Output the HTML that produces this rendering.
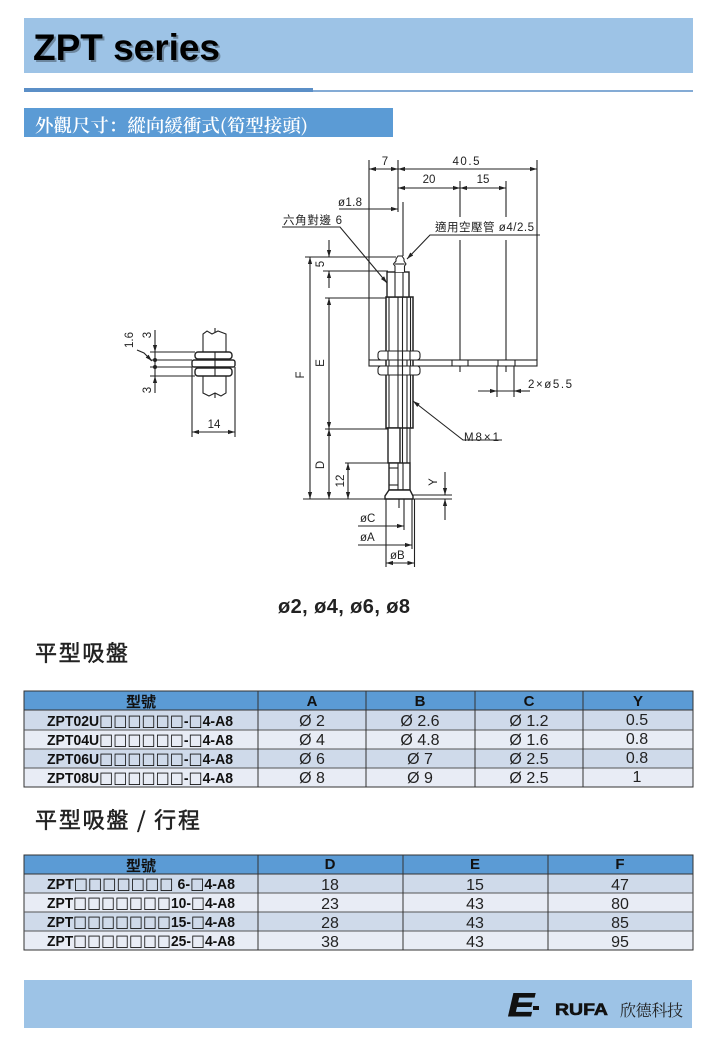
<!DOCTYPE html>
<html><head><meta charset="utf-8"><style>
html,body{margin:0;padding:0;background:#fff;}
svg{display:block;}
.d{font-family:"Liberation Sans","DejaVu Sans",sans-serif;font-size:11.5px;fill:#222;}
.ln{stroke:#222;stroke-width:1.1;fill:none;}
.th{font-family:"Liberation Sans","Noto Sans CJK TC",sans-serif;font-weight:bold;font-size:15px;fill:#111;}
.tm{font-family:"Liberation Sans","DejaVu Sans",sans-serif;font-weight:bold;font-size:15px;fill:#111;}
.bx{font-family:"DejaVu Sans",sans-serif;font-size:16px;font-weight:normal;}
.tv{font-family:"Liberation Sans",sans-serif;font-size:16px;fill:#222;}
</style></head><body>
<svg width="720" height="1040" viewBox="0 0 720 1040" xmlns="http://www.w3.org/2000/svg">
<defs>
<marker id="a" viewBox="0 0 10 10" refX="10" refY="5" markerWidth="7" markerHeight="7" orient="auto-start-reverse" markerUnits="userSpaceOnUse"><path d="M0,2 L10,5 L0,8z" fill="#222"/></marker>
</defs>
<rect x="0" y="0" width="720" height="1040" fill="#fff"/>
<!-- title band -->
<rect x="24" y="18" width="669" height="55" fill="#9dc3e6"/>
<text x="35" y="62" font-family="Liberation Sans,sans-serif" font-weight="bold" font-size="37" fill="#000" opacity="0.3" textLength="187">ZPT series</text>
<text x="33" y="60" font-family="Liberation Sans,sans-serif" font-weight="bold" font-size="37" fill="#000" textLength="187">ZPT series</text>
<!-- separator -->
<rect x="24" y="88" width="289" height="4" fill="#5b8fc7"/>
<line x1="313" y1="91" x2="693" y2="91" stroke="#5b8fc7" stroke-width="1.5"/>
<!-- label -->
<rect x="24" y="108" width="369" height="29" fill="#5b9bd5"/>
<text x="35" y="132" font-size="18" fill="#fff" textLength="273" lengthAdjust="spacingAndGlyphs" style="font-family:'Noto Serif CJK SC',serif;font-weight:600">外觀尺寸：縱向緩衝式(筍型接頭)</text>

<!-- ===== diagram ===== -->
<g class="ln">
<line x1="369" y1="160" x2="369" y2="360"/>
<line x1="398" y1="160" x2="398" y2="212"/>
<line x1="537" y1="160" x2="537" y2="360"/>
<line x1="460" y1="181" x2="460" y2="217"/><line x1="460" y1="240" x2="460" y2="372"/>
<line x1="506" y1="181" x2="506" y2="217"/><line x1="506" y1="240" x2="506" y2="372"/>
<line x1="369" y1="169" x2="398" y2="169" marker-start="url(#a)" marker-end="url(#a)"/>
<line x1="398" y1="169" x2="537" y2="169" marker-start="url(#a)" marker-end="url(#a)"/>
<line x1="398" y1="188" x2="460" y2="188" marker-start="url(#a)" marker-end="url(#a)"/>
<line x1="460" y1="188" x2="506" y2="188" marker-start="url(#a)" marker-end="url(#a)"/>
<line x1="339" y1="209" x2="398" y2="209" marker-end="url(#a)"/>
<line x1="403" y1="202" x2="403" y2="256"/>
<polyline points="282,227 340,227 387,283" marker-end="url(#a)"/>
<polyline points="540,235 430,235 407,259" marker-end="url(#a)"/>
<polyline points="502,440 463,440 413,401" marker-end="url(#a)"/>
<line x1="305" y1="257" x2="396" y2="257"/>
<line x1="323" y1="271" x2="388" y2="271"/>
<line x1="329" y1="240" x2="329" y2="257" marker-end="url(#a)"/>
<line x1="329" y1="288" x2="329" y2="271" marker-end="url(#a)"/>
<line x1="310" y1="257" x2="310" y2="499" marker-start="url(#a)" marker-end="url(#a)"/>
<line x1="325" y1="298" x2="388" y2="298"/>
<line x1="329" y1="298" x2="329" y2="429" marker-start="url(#a)" marker-end="url(#a)"/>
<line x1="325" y1="429" x2="388" y2="429"/>
<line x1="329" y1="429" x2="329" y2="499" marker-start="url(#a)" marker-end="url(#a)"/>
<line x1="345" y1="463" x2="390" y2="463"/>
<line x1="348" y1="463" x2="348" y2="499" marker-start="url(#a)" marker-end="url(#a)"/>
<line x1="303" y1="499" x2="452" y2="499"/>
<line x1="413" y1="495" x2="452" y2="495"/>
<line x1="445" y1="472" x2="445" y2="495" marker-end="url(#a)"/>
<line x1="445" y1="520" x2="445" y2="499" marker-end="url(#a)"/>
<rect x="369" y="360" width="168" height="6" fill="#fff"/>
<line x1="452" y1="360" x2="452" y2="366"/><line x1="468" y1="360" x2="468" y2="366"/>
<line x1="498" y1="360" x2="498" y2="366"/><line x1="515" y1="360" x2="515" y2="366"/>
<line x1="497" y1="366" x2="497" y2="397"/>
<line x1="514" y1="366" x2="514" y2="397"/>
<line x1="478" y1="391" x2="497" y2="391" marker-end="url(#a)"/>
<line x1="530" y1="391" x2="514" y2="391" marker-end="url(#a)"/>
<line x1="497" y1="391" x2="514" y2="391"/>
<rect x="386" y="297" width="27" height="131" fill="#fff" stroke-width="1.5"/>
<line x1="389" y1="297" x2="389" y2="428"/>
<line x1="410.5" y1="297" x2="410.5" y2="428"/>
<line x1="398" y1="272" x2="398" y2="490"/>
<line x1="402.5" y1="272" x2="402.5" y2="490"/>
<line x1="407" y1="297" x2="407" y2="490"/>
<rect x="378" y="351" width="42" height="9" rx="3" fill="#fff"/>
<rect x="378" y="366" width="42" height="9" rx="3" fill="#fff"/>
<line x1="388" y1="351" x2="388" y2="360"/><line x1="410" y1="351" x2="410" y2="360"/>
<line x1="388" y1="366" x2="388" y2="375"/><line x1="410" y1="366" x2="410" y2="375"/>
<line x1="398" y1="351" x2="398" y2="375"/><line x1="402.5" y1="351" x2="402.5" y2="375"/>
<rect x="387" y="272" width="22" height="25" fill="#fff" stroke-width="1.4"/>
<line x1="395" y1="272" x2="395" y2="297"/>
<line x1="403" y1="272" x2="403" y2="297"/>
<path d="M395,272 L395,266 L393.5,264 L396,261 L396,259 L398,256 L402,256 L404,259 L404,261 L406,264 L404.5,266 L404.5,272" fill="#fff"/>
<line x1="395" y1="264" x2="404.5" y2="264"/>
<rect x="388" y="428" width="12" height="35" fill="#fff" stroke-width="1.4"/>
<line x1="410" y1="428" x2="410" y2="463"/>
<rect x="389" y="463" width="21" height="27" fill="#fff" stroke-width="1.4"/>
<line x1="398" y1="463" x2="398" y2="490"/>
<line x1="403" y1="463" x2="403" y2="490"/>
<line x1="389" y1="468" x2="398" y2="468"/>
<line x1="389" y1="485" x2="398" y2="485"/>
<path d="M389,490 L385,496 L385,499 L413,499 L413,496 L410,490 Z" fill="#fff" stroke-width="1.4"/>
<line x1="386" y1="499" x2="386" y2="567"/>
<line x1="404" y1="499" x2="404" y2="530"/>
<line x1="412" y1="499" x2="412" y2="549"/>
<line x1="414.5" y1="499" x2="414.5" y2="567"/>
<line x1="399" y1="499" x2="399" y2="508"/>
<line x1="358" y1="526" x2="404" y2="526" marker-end="url(#a)"/>
<line x1="358" y1="545" x2="412" y2="545" marker-end="url(#a)"/>
<line x1="386" y1="563" x2="414.5" y2="563" marker-start="url(#a)" marker-end="url(#a)"/>

<line x1="215" y1="328" x2="215" y2="398" stroke-dasharray="10,2,2,2"/>
<path d="M203,393 L203,334 L207,331 L212,334 L218,331 L226,334 L226,393 L221,396 L215,393 L209,396 Z" fill="#fff"/>
<rect x="195" y="352" width="37" height="7" rx="3" fill="#fff" stroke-width="1.4"/>
<rect x="192" y="360" width="43" height="7" rx="2" fill="#fff" stroke-width="1.4"/>
<rect x="195" y="368" width="37" height="8" rx="3" fill="#fff" stroke-width="1.4"/>
<line x1="215" y1="352" x2="215" y2="376"/>
<line x1="150" y1="352" x2="195" y2="352"/>
<line x1="150" y1="360" x2="192" y2="360"/>
<line x1="150" y1="367" x2="192" y2="367"/>
<line x1="150" y1="376" x2="195" y2="376"/>
<line x1="155" y1="330" x2="155" y2="352" marker-end="url(#a)"/>
<line x1="155" y1="393" x2="155" y2="376" marker-end="url(#a)"/>
<line x1="155" y1="352" x2="155" y2="376"/>
<polyline points="137,350 144,353 152,361" marker-end="url(#a)"/>
<line x1="192" y1="367" x2="192" y2="437"/>
<line x1="235" y1="367" x2="235" y2="437"/>
<line x1="192" y1="432" x2="235" y2="432" marker-start="url(#a)" marker-end="url(#a)"/>
</g>
<circle cx="155" cy="360" r="2" fill="#222"/>
<circle cx="155" cy="367" r="2" fill="#222"/>

<g class="d">
<text x="385" y="165" text-anchor="middle">7</text>
<text x="466" y="165" text-anchor="middle" textLength="27">40.5</text>
<text x="429" y="183" text-anchor="middle">20</text>
<text x="483" y="183" text-anchor="middle">15</text>
<text x="338" y="206" textLength="24">ø1.8</text>
<text x="283" y="224" style="font-family:'Liberation Sans','Noto Sans CJK TC',sans-serif" textLength="59">六角對邊 6</text>
<text x="435" y="231" style="font-family:'Liberation Sans','Noto Sans CJK TC',sans-serif" textLength="99">適用空壓管 ø4/2.5</text>
<text transform="translate(324,264) rotate(-90)" text-anchor="middle">5</text>
<text transform="translate(304,375) rotate(-90)" text-anchor="middle">F</text>
<text transform="translate(324,363) rotate(-90)" text-anchor="middle">E</text>
<text transform="translate(324,465) rotate(-90)" text-anchor="middle">D</text>
<text transform="translate(344,481) rotate(-90)" text-anchor="middle">12</text>
<text transform="translate(437,482) rotate(-90)" text-anchor="middle">Y</text>
<text x="528" y="388" textLength="44">2×ø5.5</text>
<text x="464" y="441" textLength="35">M8×1</text>
<text x="360" y="522">øC</text>
<text x="360" y="541">øA</text>
<text x="390" y="559">øB</text>
<text transform="translate(133,340) rotate(-90)" text-anchor="middle">1.6</text>
<text transform="translate(151,335) rotate(-90)" text-anchor="middle">3</text>
<text transform="translate(151,390) rotate(-90)" text-anchor="middle">3</text>
<text x="214" y="428" text-anchor="middle">14</text>
</g>
<text x="278" y="613" font-family="Liberation Sans,sans-serif" font-weight="bold" font-size="20" fill="#222" textLength="132">ø2, ø4, ø6, ø8</text>

<text x="35" y="661" style="font-family:'Noto Sans CJK TC',sans-serif" font-size="22" fill="#222" stroke="#222" stroke-width="0.5" textLength="93">平型吸盤</text>

<!-- table 1 -->
<rect x="24" y="691" width="669" height="19" fill="#5b9bd5"/>
<rect x="24" y="710" width="669" height="20" fill="#cfdaea"/>
<rect x="24" y="730" width="669" height="19" fill="#e8ecf5"/>
<rect x="24" y="749" width="669" height="19" fill="#cfdaea"/>
<rect x="24" y="768" width="669" height="19" fill="#e8ecf5"/>
<g stroke="#333" stroke-width="1" fill="none">
<rect x="24" y="691" width="669" height="96"/>
<line x1="24" y1="710" x2="693" y2="710"/>
<line x1="24" y1="730" x2="693" y2="730" stroke="#555"/>
<line x1="24" y1="749" x2="693" y2="749" stroke="#555"/>
<line x1="24" y1="768" x2="693" y2="768" stroke="#555"/>
<line x1="258" y1="691" x2="258" y2="787"/>
<line x1="366" y1="691" x2="366" y2="787"/>
<line x1="475" y1="691" x2="475" y2="787"/>
<line x1="583" y1="691" x2="583" y2="787"/>
</g>
<g class="th" text-anchor="middle">
<text x="141" y="707">型號</text>
<text x="312" y="706">A</text><text x="420" y="706">B</text><text x="529" y="706">C</text><text x="638" y="706">Y</text>
</g>
<g class="tm">
<text x="47" y="726" textLength="186" lengthAdjust="spacingAndGlyphs">ZPT02U<tspan class="bx">□□□□□□</tspan>-<tspan class="bx">□</tspan>4-A8</text>
<text x="47" y="745" textLength="186" lengthAdjust="spacingAndGlyphs">ZPT04U<tspan class="bx">□□□□□□</tspan>-<tspan class="bx">□</tspan>4-A8</text>
<text x="47" y="764" textLength="186" lengthAdjust="spacingAndGlyphs">ZPT06U<tspan class="bx">□□□□□□</tspan>-<tspan class="bx">□</tspan>4-A8</text>
<text x="47" y="783" textLength="186" lengthAdjust="spacingAndGlyphs">ZPT08U<tspan class="bx">□□□□□□</tspan>-<tspan class="bx">□</tspan>4-A8</text>
</g>
<g class="tv" text-anchor="middle">
<text x="312" y="726">Ø 2</text><text x="420" y="726">Ø 2.6</text><text x="529" y="726">Ø 1.2</text><text x="637" y="725">0.5</text>
<text x="312" y="745">Ø 4</text><text x="420" y="745">Ø 4.8</text><text x="529" y="745">Ø 1.6</text><text x="637" y="744">0.8</text>
<text x="312" y="764">Ø 6</text><text x="420" y="764">Ø 7</text><text x="529" y="764">Ø 2.5</text><text x="637" y="763">0.8</text>
<text x="312" y="783">Ø 8</text><text x="420" y="783">Ø 9</text><text x="529" y="783">Ø 2.5</text><text x="637" y="782">1</text>
</g>

<text x="35" y="828" style="font-family:'Noto Sans CJK TC',sans-serif" font-size="22" fill="#222" stroke="#222" stroke-width="0.5" textLength="165">平型吸盤 / 行程</text>

<!-- table 2 -->
<rect x="24" y="855" width="669" height="19" fill="#5b9bd5"/>
<rect x="24" y="874" width="669" height="19" fill="#cfdaea"/>
<rect x="24" y="893" width="669" height="19" fill="#e8ecf5"/>
<rect x="24" y="912" width="669" height="19" fill="#cfdaea"/>
<rect x="24" y="931" width="669" height="19" fill="#e8ecf5"/>
<g stroke="#333" stroke-width="1" fill="none">
<rect x="24" y="855" width="669" height="95"/>
<line x1="24" y1="874" x2="693" y2="874"/>
<line x1="24" y1="893" x2="693" y2="893" stroke="#555"/>
<line x1="24" y1="912" x2="693" y2="912" stroke="#555"/>
<line x1="24" y1="931" x2="693" y2="931" stroke="#555"/>
<line x1="258" y1="855" x2="258" y2="950"/>
<line x1="403" y1="855" x2="403" y2="950"/>
<line x1="548" y1="855" x2="548" y2="950"/>
</g>
<g class="th" text-anchor="middle">
<text x="141" y="871">型號</text>
<text x="330" y="869">D</text><text x="475" y="869">E</text><text x="620" y="869">F</text>
</g>
<g class="tm">
<text x="47" y="889" textLength="188" lengthAdjust="spacingAndGlyphs">ZPT<tspan class="bx">□□□□□□□</tspan> 6-<tspan class="bx">□</tspan>4-A8</text>
<text x="47" y="908" textLength="188" lengthAdjust="spacingAndGlyphs">ZPT<tspan class="bx">□□□□□□□</tspan>10-<tspan class="bx">□</tspan>4-A8</text>
<text x="47" y="927" textLength="188" lengthAdjust="spacingAndGlyphs">ZPT<tspan class="bx">□□□□□□□</tspan>15-<tspan class="bx">□</tspan>4-A8</text>
<text x="47" y="946" textLength="188" lengthAdjust="spacingAndGlyphs">ZPT<tspan class="bx">□□□□□□□</tspan>25-<tspan class="bx">□</tspan>4-A8</text>
</g>
<g class="tv" text-anchor="middle">
<text x="330" y="890">18</text><text x="475" y="890">15</text><text x="620" y="890">47</text>
<text x="330" y="909">23</text><text x="475" y="909">43</text><text x="620" y="909">80</text>
<text x="330" y="928">28</text><text x="475" y="928">43</text><text x="620" y="928">85</text>
<text x="330" y="947">38</text><text x="475" y="947">43</text><text x="620" y="947">95</text>
</g>

<!-- footer -->
<rect x="24" y="980" width="668" height="48" fill="#9dc3e6"/>
<text x="508" y="1016" font-family="Liberation Sans,sans-serif" font-weight="bold" font-style="italic" font-size="32" fill="#111" textLength="26" lengthAdjust="spacingAndGlyphs" stroke="#111" stroke-width="1">E</text>
<rect x="533" y="1006" width="6" height="4" fill="#111"/>
<text x="555" y="1015" font-family="Liberation Sans,sans-serif" font-weight="bold" font-size="17" fill="#111" stroke="#111" stroke-width="0.6" textLength="53" lengthAdjust="spacingAndGlyphs">RUFA</text>
<text x="620" y="1016" style="font-family:'Noto Serif CJK SC',serif" font-size="16" fill="#222" textLength="63">欣德科技</text>
</svg>
</body></html>
